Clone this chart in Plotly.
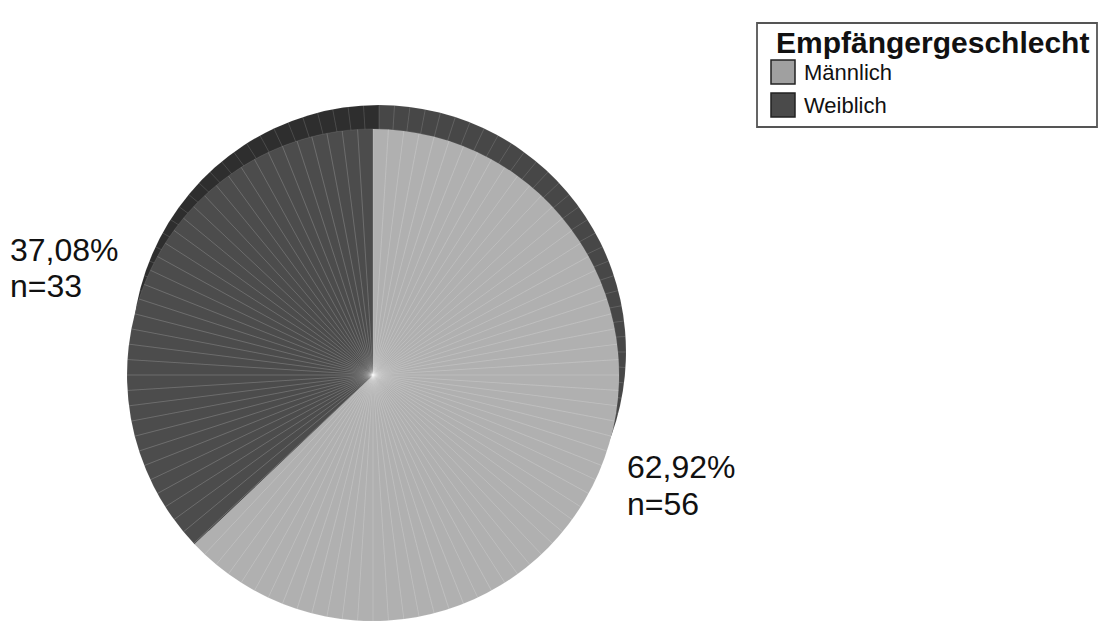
import plotly.graph_objects as go

# Empfängergeschlecht: counts per category
categories = ["Männlich", "Weiblich"]
counts = [56, 33]
face_colors = ["#b0b0b0", "#4c4c4c"]
rim_colors = ["#474747", "#2e2e2e"]
legend_colors = ["#a0a0a0", "#4a4a4a"]
legend_title = "Empfängergeschlecht"

W, H = 1101, 621
total = sum(counts)
shares = [c / total * 100 for c in counts]

# pie geometry (pixels)
cx, cy, r = 373, 376, 247
dx, dy = 6, -24  # offset of the extruded rim


def dom(x0, y0):
    return dict(
        x=[(x0 - r) / W, (x0 + r) / W],
        y=[max(0.0, (H - y0 - r) / H), (H - y0 + r) / H],
    )


def px_dom(x0, y0):
    # keep the domain square so the radius stays r even when clipped at the bottom
    ytop = H - y0 + r
    ybot = max(0.0, H - y0 - r)
    h = ytop - ybot
    return dict(x=[(x0 - h / 2) / W, (x0 + h / 2) / W], y=[ybot / H, ytop / H])


facets = [1] * 100  # even faceting of the disc surface

fig = go.Figure()

# rim (side wall) drawn behind the top face
fig.add_trace(go.Pie(
    labels=categories, values=counts, sort=False, direction="clockwise",
    marker=dict(colors=rim_colors, line=dict(width=0)),
    textinfo="none", hoverinfo="skip", showlegend=False,
    domain=dom(cx + dx, cy + dy),
))
fig.add_trace(go.Pie(
    values=facets, sort=False, direction="clockwise",
    marker=dict(colors=["rgba(0,0,0,0)"] * len(facets),
                line=dict(color="rgba(255,255,255,0.15)", width=0.5)),
    textinfo="none", hoverinfo="skip", showlegend=False,
    domain=dom(cx + dx, cy + dy),
))

# top face
face_dom = px_dom(cx, cy)
fig.add_trace(go.Pie(
    labels=categories, values=counts, sort=False, direction="clockwise",
    marker=dict(colors=face_colors, line=dict(width=0)),
    textinfo="none", showlegend=False,
    domain=face_dom,
))
fig.add_trace(go.Pie(
    values=facets, sort=False, direction="clockwise",
    marker=dict(colors=["rgba(0,0,0,0)"] * len(facets),
                line=dict(color="rgba(255,255,255,0.2)", width=0.5)),
    textinfo="none", hoverinfo="skip", showlegend=False,
    domain=face_dom,
))

font_family = "Liberation Sans, Arial, sans-serif"
annotations = []


def txt(x, y, s, size, bold=False, xanchor="left"):
    annotations.append(dict(
        x=x / W, y=1 - y / H, xref="paper", yref="paper",
        text=f"<b>{s}</b>" if bold else s, showarrow=False,
        xanchor=xanchor, yanchor="middle",
        font=dict(family=font_family, size=size, color="#111111"),
    ))


def pct(v):
    return f"{v:.2f}".replace(".", ",") + "%"


# slice labels
txt(8, 250, pct(shares[1]), 32)
txt(8, 286, f"n={counts[1]}", 32)
txt(625, 467, pct(shares[0]), 32)
txt(625, 504, f"n={counts[0]}", 32)

# legend box
shapes = [dict(type="rect", xref="paper", yref="paper",
               x0=757 / W, x1=1097 / W, y0=1 - 23 / H, y1=1 - 127 / H,
               line=dict(color="#555555", width=1.8), fillcolor="white", layer="above")]
txt(932, 43, legend_title, 30, bold=True, xanchor="center")
for i, (name, col) in enumerate(zip(categories, legend_colors)):
    y0 = 60 + i * 33
    shapes.append(dict(type="rect", xref="paper", yref="paper",
                       x0=771 / W, x1=795 / W, y0=1 - y0 / H, y1=1 - (y0 + 24) / H,
                       line=dict(color="#222222", width=1.5), fillcolor=col, layer="above"))
    txt(802, y0 + 13, name, 22)

fig.update_layout(
    width=W, height=H, margin=dict(l=0, r=0, t=0, b=0),
    paper_bgcolor="white", plot_bgcolor="white",
    showlegend=False, annotations=annotations, shapes=shapes,
)

fig.write_html("out.html")
